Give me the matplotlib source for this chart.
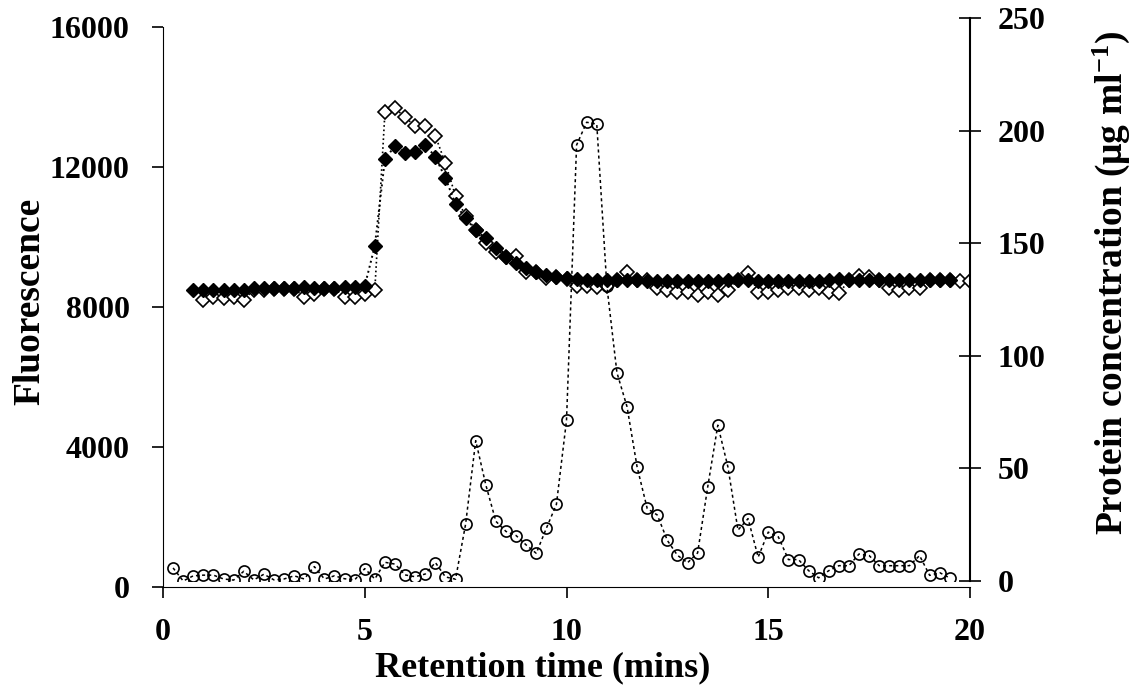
import matplotlib
matplotlib.use("Agg")
import matplotlib.pyplot as plt
import numpy as np

plt.rcParams['font.family'] = ['Liberation Serif', 'DejaVu Serif']
plt.rcParams['font.weight'] = 'bold'
plt.rcParams['mathtext.fontset'] = 'custom'
plt.rcParams['mathtext.rm'] = 'Liberation Serif:bold'
plt.rcParams['mathtext.default'] = 'rm'

# sampling times (mins), one fraction every 0.25 min
t_filled = np.arange(3, 79) * 0.25      # 0.75 .. 19.5
t_open = np.arange(4, 81) * 0.25        # 1.0 .. 20.0
t_protein = np.arange(1, 79) * 0.25     # 0.25 .. 19.5

fluor_filled = [
    8500, 8500, 8500, 8500, 8500, 8500, 8530, 8530, 8530, 8530, 8530, 8560,
    8530, 8530, 8530, 8560, 8560, 8600,
    9750, 12220, 12610, 12410, 12430, 12630, 12290, 11680, 10940, 10530,
    10200, 9960, 9680, 9440, 9250, 9110, 9010, 8910, 8870, 8820,
    8790, 8780, 8780, 8770, 8770, 8770, 8760, 8750, 8750, 8740,
    8740, 8740, 8740, 8740, 8750, 8760, 8760, 8760, 8750, 8750,
    8740, 8740, 8740, 8740, 8750, 8780, 8790, 8780, 8760, 8760,
    8760, 8760, 8760, 8760, 8760, 8760, 8760, 8760,
]

fluor_open = [
    8200, 8290, 8250, 8290, 8200, 8500, 8500, 8520, 8520, 8520, 8290, 8360,
    8520, 8520, 8290, 8290, 8360, 8500,
    13560, 13680, 13420, 13170, 13170, 12890, 12100, 11170, 10600, 10200,
    9820, 9580, 9440, 9460, 9010, 8990, 8820, 8850, 8800,
    8600, 8600, 8580, 8600, 8760, 9010, 8760, 8760,
    8530, 8490, 8440, 8440, 8340, 8440, 8340, 8490,
    8760, 8960, 8440, 8440, 8490, 8530, 8530, 8490, 8530, 8440, 8390,
    8760, 8880, 8850, 8760, 8530, 8490, 8530, 8530,
    8760, 8760, 8760, 8740, 8740,
]

protein = [
    5.8, 0, 2.3, 2.6, 2.6, 0.9, 0.4, 4.3, 0.5, 3, 0.5, 0.9, 2.3, 0.9, 6.4,
    0.9, 2.3, 1, 0.5, 5.5, 0.9, 8.3, 7.5, 2.7, 1.9, 3.1, 8.2, 1.8, 0.8,
    25.3, 62.3, 42.7, 26.5, 22, 20.2, 16, 12.3, 23.4, 34, 71.3,
    193.6, 203.7, 202.9, 131, 92.5, 77.4, 50.6, 32.2, 29.3, 18, 11.4, 8.1,
    12.5, 41.8, 69.2, 50.7, 22.6, 27.7, 10.6, 21.7, 19.6, 9.5, 9.5, 4.6,
    1.4, 4.6, 6.8, 6.8, 12, 11.3, 6.8, 6.8, 6.8, 6.8, 11.3, 2.5, 3.7, 1.3,
]

x_ticks = [0, 5, 10, 15, 20]
fluor_ticks = [0, 4000, 8000, 12000, 16000]
protein_ticks = [0, 50, 100, 150, 200, 250]

W, H = 1132, 685
fig = plt.figure(figsize=(W / 100, H / 100), dpi=100)

# left axis (fluorescence)
ax = fig.add_axes([163 / W, 1 - 587 / H, (970 - 163) / W, (587 - 27) / H])
# right axis (protein), drawn on its own frame
ax2 = fig.add_axes([163 / W, 1 - 581 / H, (970 - 163) / W, (581 - 18) / H])
ax2.patch.set_alpha(0)

ax.plot(t_open, fluor_open, linestyle=':', color='black', lw=1.2,
        marker='D', markersize=7, markerfacecolor='white',
        markeredgecolor='black', markeredgewidth=1.2, zorder=2)
ax.plot(t_filled, fluor_filled, linestyle=':', color='black', lw=1.4,
        marker='D', markersize=7, markerfacecolor='black',
        markeredgecolor='black', zorder=3)
ax2.plot(t_protein, protein, linestyle=(0, (2, 2)), color='black', lw=1.1,
         marker='o', markersize=8, markerfacecolor='none',
         markeredgecolor='black', markeredgewidth=1.2)

ax.set_xlim(0, 20)
ax.set_ylim(0, 16000)
ax.set_xticks(x_ticks)
ax.set_yticks(fluor_ticks)
ax.spines['top'].set_visible(False)
ax.spines['right'].set_visible(False)
ax.tick_params(axis='both', direction='out', length=8, width=1.2,
               labelsize=23, pad=16)
ax.tick_params(axis='x', pad=14)
ax.set_ylabel('Fluorescence', fontsize=27, fontweight='bold',
              ha='center', va='center')
ax.yaxis.set_label_coords(-0.165, 0.51)
ax.set_xlabel('Retention time (mins)', fontsize=26, fontweight='bold',
              ha='center', va='center')
ax.xaxis.set_label_coords(0.47, -0.145)

ax2.set_xlim(0, 20)
ax2.set_ylim(0, 250)
ax2.set_yticks(protein_ticks)
ax2.xaxis.set_visible(False)
for s in ['top', 'left', 'bottom']:
    ax2.spines[s].set_visible(False)
ax2.spines['right'].set_linewidth(1.5)
ax2.yaxis.tick_right()
ax2.yaxis.set_label_position('right')
ax2.tick_params(axis='y', direction='inout', length=16, width=1.2,
                labelsize=23, pad=12)
ax2.set_ylabel(r'Protein concentration (μg ml$^{-1}$)', fontsize=27,
               fontweight='bold', rotation=90, ha='center', va='center')
ax2.yaxis.set_label_coords(1.175, 0.53)

fig.savefig('out.png', dpi=100)
